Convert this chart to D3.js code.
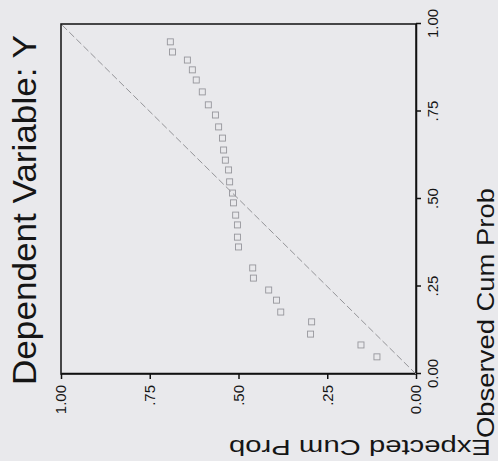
<!DOCTYPE html>
<html>
<head>
<meta charset="utf-8">
<script src="https://cdn.jsdelivr.net/npm/d3@7"></script>
<style>
  html, body { margin: 0; padding: 0; background: #e9e9ec; }
  svg { display: block; }
  text { font-family: "Liberation Sans", Arial, sans-serif; fill: #151515; }
</style>
</head>
<body>
<svg id="chart" width="498" height="461"></svg>
<script>
// ---- data ----
const chartTitle = "Dependent Variable: Y";
const xAxisTitle = "Observed Cum Prob";
const yAxisTitle = "Expected Cum Prob";
const observedCumProb = [0.049, 0.083, 0.114, 0.149, 0.177, 0.211, 0.240, 0.274, 0.303, 0.363,
                         0.391, 0.426, 0.454, 0.489, 0.517, 0.549, 0.583, 0.611, 0.640, 0.674,
                         0.706, 0.740, 0.769, 0.806, 0.840, 0.869, 0.897, 0.920, 0.949];
const expectedCumProb = [0.110, 0.155, 0.297, 0.294, 0.381, 0.393, 0.415, 0.458, 0.460, 0.500,
                         0.503, 0.503, 0.508, 0.514, 0.517, 0.525, 0.528, 0.537, 0.542, 0.545,
                         0.556, 0.565, 0.585, 0.602, 0.619, 0.630, 0.644, 0.686, 0.692];
const tickValues = [0, 0.25, 0.5, 0.75, 1];
const tickLabels = ["0.00", ".25", ".50", ".75", "1.00"];
const diagonal = [0, 1];

// ---- drawing ----
const W = 498, H = 461;
const svg = d3.select("#chart");
// chart is drawn in its natural orientation, then the whole page is turned 90deg counter-clockwise
const g = svg.append("g").attr("transform", `translate(0,${H}) rotate(-90)`);

const x = d3.scaleLinear().domain([0, 1]).range([87, 437]);   // observed
const y = d3.scaleLinear().domain([0, 1]).range([416, 61]);   // expected

// plot frame
g.append("rect")
  .attr("x", x(0)).attr("y", y(1))
  .attr("width", x(1) - x(0)).attr("height", y(0) - y(1))
  .attr("fill", "none").attr("stroke", "#111").attr("stroke-width", 1.5);

const fmt = v => tickLabels[tickValues.indexOf(v)];

const xAxis = g.append("g")
  .attr("transform", `translate(0,${y(0)})`)
  .call(d3.axisBottom(x).tickValues(tickValues).tickFormat(fmt).tickSize(5).tickPadding(6).tickSizeOuter(0));
const yAxis = g.append("g")
  .attr("transform", `translate(${x(0)},0)`)
  .call(d3.axisLeft(y).tickValues(tickValues).tickFormat(fmt).tickSize(5).tickPadding(6).tickSizeOuter(0));

[xAxis, yAxis].forEach(a => {
  a.select(".domain").attr("stroke", "#111").attr("stroke-width", 1.5);
  a.selectAll(".tick line").attr("stroke", "#111").attr("stroke-width", 1.5);
  a.selectAll(".tick text").attr("font-size", 15).attr("fill", "#151515")
    .attr("font-family", "'Liberation Sans', Arial, sans-serif");
});

// diagonal reference line
g.append("line")
  .attr("x1", x(diagonal[0])).attr("y1", y(diagonal[0]))
  .attr("x2", x(diagonal[1])).attr("y2", y(diagonal[1]))
  .attr("stroke", "#949498").attr("stroke-width", 1)
  .attr("stroke-dasharray", "7,3");

// points
const s = 6;
g.append("g").selectAll("rect")
  .data(observedCumProb.map((o, i) => ({ o, e: expectedCumProb[i] })))
  .join("rect")
  .attr("x", d => x(d.o) - s / 2)
  .attr("y", d => y(d.e) - s / 2)
  .attr("width", s).attr("height", s)
  .attr("fill", "none").attr("stroke", "#96969c").attr("stroke-width", 0.9);

// titles
g.append("text")
  .attr("x", 251).attr("y", 36)
  .attr("text-anchor", "middle")
  .attr("font-size", 33)
  .attr("textLength", 350).attr("lengthAdjust", "spacingAndGlyphs")
  .text(chartTitle);

g.append("text")
  .attr("x", 148).attr("y", 494)
  .attr("text-anchor", "middle")
  .attr("font-size", 24)
  .attr("textLength", 250).attr("lengthAdjust", "spacingAndGlyphs")
  .text(xAxisTitle);

g.append("text")
  .attr("transform", `translate(21,360) rotate(-90)`)
  .attr("text-anchor", "middle")
  .attr("font-size", 22)
  .attr("textLength", 262).attr("lengthAdjust", "spacingAndGlyphs")
  .text(yAxisTitle);
</script>
</body>
</html>
